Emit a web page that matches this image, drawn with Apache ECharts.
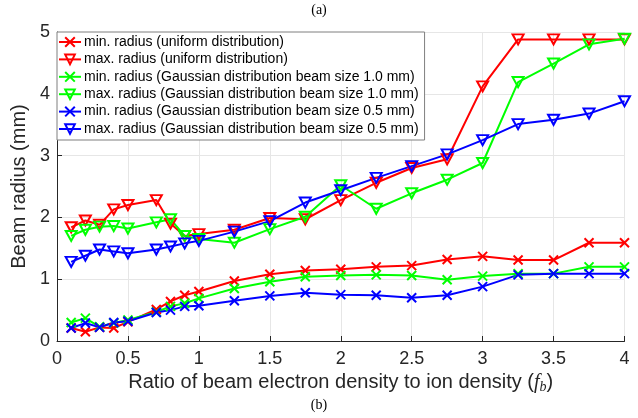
<!DOCTYPE html>
<html>
<head>
<meta charset="utf-8">
<script src="https://cdn.jsdelivr.net/npm/echarts@6/dist/echarts.min.js"></script>
<style>
  html, body { margin: 0; padding: 0; background: #fff; }
  #main { width: 638px; height: 418px; }
</style>
</head>
<body>
<div id="main"></div>
<script>
// ratio f_b (x values shared by every curve)
const fb = [0.1, 0.2, 0.3, 0.4, 0.5, 0.7, 0.8, 0.9, 1, 1.25, 1.5, 1.75, 2, 2.25, 2.5, 2.75, 3, 3.25, 3.5, 3.75, 4];

const uniformMin = [0.21, 0.15, 0.22, 0.21, 0.31, 0.51, 0.64, 0.74, 0.80, 0.97, 1.08, 1.14, 1.16, 1.20, 1.22, 1.32, 1.37, 1.31, 1.31, 1.59, 1.59];
const uniformMax = [1.84, 1.95, 1.88, 2.13, 2.20, 2.28, 1.90, 1.70, 1.73, 1.80, 1.99, 1.97, 2.28, 2.56, 2.80, 2.94, 4.12, 4.88, 4.88, 4.88, 4.88];
const gauss10Min = [0.30, 0.37, 0.23, 0.29, 0.34, 0.47, 0.56, 0.61, 0.69, 0.85, 0.96, 1.04, 1.06, 1.07, 1.06, 0.99, 1.05, 1.09, 1.09, 1.20, 1.20];
const gauss10Max = [1.70, 1.80, 1.85, 1.86, 1.82, 1.92, 1.97, 1.70, 1.65, 1.59, 1.81, 2.01, 2.52, 2.14, 2.39, 2.61, 2.88, 4.19, 4.49, 4.80, 4.89];
const gauss05Min = [0.21, 0.29, 0.22, 0.30, 0.32, 0.46, 0.50, 0.56, 0.57, 0.65, 0.73, 0.78, 0.75, 0.74, 0.70, 0.74, 0.88, 1.07, 1.09, 1.09, 1.09];
const gauss05Max = [1.28, 1.38, 1.48, 1.45, 1.42, 1.48, 1.53, 1.58, 1.62, 1.77, 1.94, 2.24, 2.44, 2.64, 2.83, 3.02, 3.25, 3.51, 3.58, 3.68, 3.88];

const names = [
  'min. radius (uniform distribution)',
  'max. radius (uniform distribution)',
  'min. radius (Gaussian distribution beam size 1.0 mm)',
  'max. radius (Gaussian distribution beam size 1.0 mm)',
  'min. radius (Gaussian distribution beam size 0.5 mm)',
  'max. radius (Gaussian distribution beam size 0.5 mm)'
];
const colors = ['#ff0000', '#ff0000', '#00ff00', '#00ff00', '#0000ff', '#0000ff'];
const values = [uniformMin, uniformMax, gauss10Min, gauss10Max, gauss05Min, gauss05Max];

const crossMark = 'path://M0,0L10,10M10,0L0,10';
const downTri = 'path://M0,0L10,0L5,9Z';

const axisColor = '#262626';

const chart = echarts.init(document.getElementById('main'));

const series = values.map((v, i) => ({
  name: names[i],
  type: 'line',
  data: fb.map((x, j) => [x, v[j]]),
  symbol: i % 2 === 0 ? crossMark : downTri,
  symbolSize: i % 2 === 0 ? 9 : [11, 10],
  showAllSymbol: true,
  lineStyle: { color: colors[i], width: 2 },
  itemStyle: { color: 'rgba(0,0,0,0)', borderColor: colors[i], borderWidth: 2 },
  emphasis: { disabled: true },
  animation: false
}));

chart.setOption({
  animation: false,
  grid: { left: 57, right: 13.5, top: 32, bottom: 77 },
  legend: {
    orient: 'vertical',
    left: 57,
    top: 32,
    data: names,
    backgroundColor: '#fff',
    borderColor: '#7f7f7f',
    borderWidth: 1,
    borderRadius: 0,
    padding: [3, 6, 4, 1],
    itemGap: 3.4,
    itemWidth: 22,
    itemHeight: 12,
    textStyle: { fontFamily: 'Liberation Sans', fontSize: 14, color: '#000', padding: [0, 0, 0, -2] }
  },
  xAxis: {
    type: 'value',
    min: 0,
    max: 4,
    interval: 0.5,
    name: 'Ratio of beam electron density to ion density ({i|f}{s|b})',
    nameLocation: 'middle',
    nameGap: 26,
    nameTextStyle: {
      fontFamily: 'Liberation Sans', fontSize: 20, color: axisColor,
      rich: {
        i: { fontFamily: 'Liberation Serif', fontStyle: 'italic', fontSize: 20, color: axisColor },
        s: { fontFamily: 'Liberation Serif', fontStyle: 'italic', fontSize: 14, color: axisColor, verticalAlign: 'bottom', padding: [8, 0, 0, 0] }
      }
    },
    axisLine: { show: true, onZero: false, lineStyle: { color: axisColor, width: 1 } },
    axisTick: { show: true, inside: true, length: 5, lineStyle: { color: axisColor } },
    axisLabel: { fontFamily: 'Liberation Sans', fontSize: 18, color: axisColor, margin: 9 },
    splitLine: { show: true, lineStyle: { color: '#e6e6e6', width: 1 } }
  },
  yAxis: {
    type: 'value',
    min: 0,
    max: 5,
    interval: 1,
    name: 'Beam radius (mm)',
    nameLocation: 'middle',
    nameGap: 17,
    nameTextStyle: { fontFamily: 'Liberation Sans', fontSize: 20, color: axisColor },
    axisLine: { show: true, lineStyle: { color: axisColor, width: 1 } },
    axisTick: { show: true, inside: true, length: 5, lineStyle: { color: axisColor } },
    axisLabel: { fontFamily: 'Liberation Sans', fontSize: 18, color: axisColor, margin: 7 },
    splitLine: { show: true, lineStyle: { color: '#e6e6e6', width: 1 } }
  },
  graphic: [
    { type: 'text', left: 'center', top: 3, style: { text: '(a)', font: '14px "Liberation Serif"', fill: '#000' } },
    { type: 'text', left: 'center', top: 398, style: { text: '(b)', font: '14px "Liberation Serif"', fill: '#000' } }
  ],
  series: series
});
</script>
</body>
</html>
